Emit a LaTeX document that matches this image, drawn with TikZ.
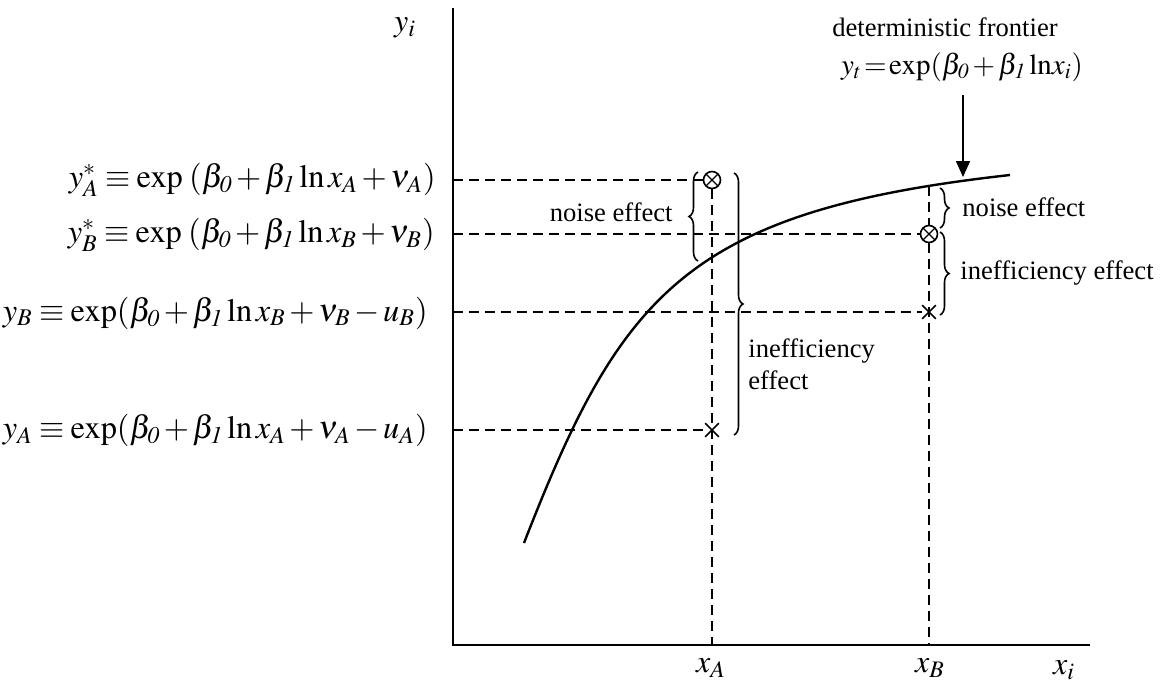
\documentclass[tikz,border=0pt]{standalone}
\usepackage{mathptmx}
\usepackage{fontspec}
\setmainfont{Liberation Serif}
\usetikzlibrary{arrows.meta,positioning,calc,shapes.misc,decorations.pathreplacing}
\newcommand{\bz}{\beta_{\mathit{0}}}
\newcommand{\bo}{\beta_{\mathit{1}}}
\newcommand{\tightmath}{\medmuskip=2mu\relax\thickmuskip=3.5mu\relax}
\newcommand{\tightermath}{\medmuskip=2mu\relax\thickmuskip=1.5mu\relax}

\begin{document}
\begin{tikzpicture}[x=0.5pt,y=-0.5pt,
  lbl/.style={font=\fontsize{13.3}{16}\selectfont,inner sep=1pt},
  eqn/.style={font=\fontsize{16.2}{19}\selectfont\tightmath,inner sep=0pt},
  axlbl/.style={font=\fontsize{16}{19}\selectfont\tightmath,inner sep=0pt},
  axis/.style={line width=1.3pt},
  guide/.style={line width=0.9pt,dash pattern=on 5pt off 3pt},
  frontier/.style={line width=1.2pt},
  obs/.style={circle,draw,line width=0.8pt,minimum size=8.5pt,inner sep=0pt,
    path picture={\draw[line width=0.6pt]
      (path picture bounding box.north west) -- (path picture bounding box.south east)
      (path picture bounding box.north east) -- (path picture bounding box.south west);}},
  ineff/.style={cross out,draw,line width=0.8pt,minimum size=6pt,inner sep=0pt},
  effbrace/.style={decorate,decoration={brace,amplitude=4.5pt},line width=0.8pt}]
  \useasboundingbox (0,0) rectangle (1169,682);

  % axes
  \coordinate (O) at (453,645);
  \coordinate (ytop) at (453,8);
  \coordinate (xend) at (1090,645);
  \draw[axis] (ytop) |- (xend);
  \node[axlbl] (yi) at (405,28) {$y_i$};
  \node[axlbl] (xi) at (1064,670) {$x_i$};

  % observations
  \node[obs] (pA) at (712,180) {};
  \node[obs] (pB) at (929,234) {};
  \node[ineff] (qA) at (712,430) {};
  \node[ineff] (qB) at (929,312) {};
  \coordinate (fB) at (929,186);
  \node[axlbl] (xA) at (711,668) {$x_A$};
  \node[axlbl] (xB) at (930,668) {$x_B$};

  % frontier
  \coordinate (fstart) at (524,543);
  \coordinate (fend) at (1010,175);
  \draw[frontier] (fstart) .. controls (621,294) and (686,211) .. (fend);

  % guide lines
  \draw[guide] (O |- pA) -- (pA.west);
  \draw[guide] (O |- pB) -- (pB.west);
  \draw[guide] (O |- qB) -- (qB);
  \draw[guide] (O |- qA) -- (qA);
  \draw[guide] (pA.south) -- (pA |- O);
  \draw[guide] (fB) -- (pB.north);
  \draw[guide] (pB.south) -- (pB |- O);

  % left labels
  \node[eqn,anchor=east] (eA1) at (436,180) {$y_A^{*} \equiv \exp\;(\bz + \bo\ln x_A + \nu_A)$};
  \node[eqn,anchor=east] (eB1) at (435,235) {$y_B^{*} \equiv \exp\;(\bz + \bo\ln x_B + \nu_B)$};
  \node[eqn,anchor=east] (eB0) at (428,313) {$y_B \equiv \exp(\bz + \bo\ln x_B + \nu_B - u_B)$};
  \node[eqn,anchor=east] (eA0) at (428,430) {$y_A \equiv \exp(\bz + \bo\ln x_A + \nu_A - u_A)$};

  % deterministic frontier
  \node[lbl] (detlbl) at (945,27) {deterministic frontier};
  \node[axlbl,font=\fontsize{14.5}{17}\selectfont\tightermath]
    (deteq) at (962,67) {$y_t = \exp(\bz + \bo\,\mathrm{ln}x_i)$};
  \coordinate (ftop) at (963,95);
  \coordinate (fpt) at (963,177);
  \draw[-{Triangle[width=7pt,length=8pt]},line width=0.8pt] (ftop) -- (fpt);

  % effects
  \draw[effbrace] (698,261) -- (698,172);
  \node[lbl,anchor=east] (noiseA) at (675,212) {noise effect};
  \draw[effbrace] (734,173) -- (734,435);
  \node[lbl,anchor=west,align=left] (ineffA) at (746,364) {inefficiency\\effect};
  \draw[effbrace] (940,188) -- (940,228);
  \node[lbl,anchor=west] (noiseB) at (960,207) {noise effect};
  \draw[effbrace] (940,232) -- (940,315);
  \node[lbl,anchor=west] (ineffB) at (958,273) {inefficiency effect};
\end{tikzpicture}
\end{document}
